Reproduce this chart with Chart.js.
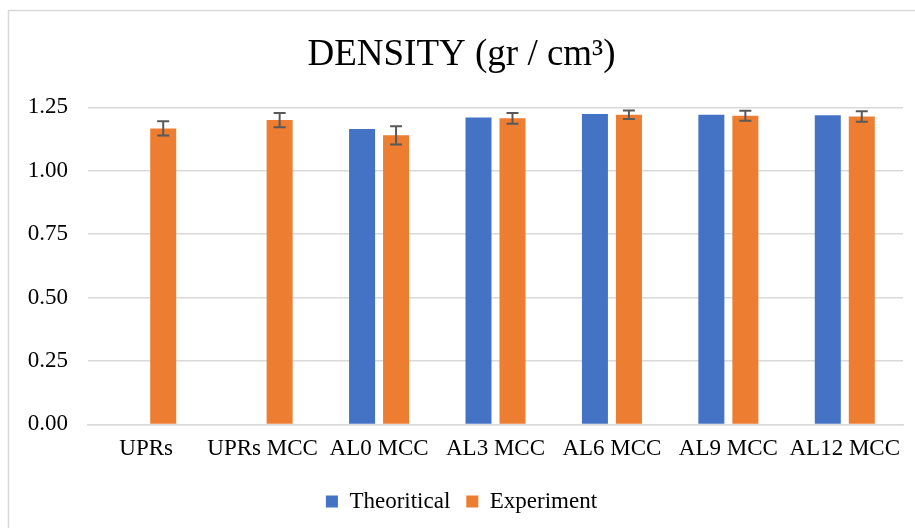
<!DOCTYPE html>
<html>
<head>
<meta charset="utf-8">
<script src="https://cdn.jsdelivr.net/npm/chart.js@4/dist/chart.umd.min.js"></script>
<style>
  html, body { margin: 0; padding: 0; background: #ffffff; }
  #wrap { position: relative; width: 915px; height: 528px; }
</style>
</head>
<body>
<div id="wrap"><canvas id="c" width="915" height="528"></canvas></div>
<script>
const categories = ['UPRs', 'UPRs MCC', 'AL0 MCC', 'AL3 MCC', 'AL6 MCC', 'AL9 MCC', 'AL12 MCC'];
const theoretical = [null, null, 1.165, 1.210, 1.224, 1.221, 1.219];
const experiment = [1.167, 1.200, 1.140, 1.207, 1.221, 1.217, 1.214];
const experimentError = [0.028, 0.028, 0.036, 0.021, 0.017, 0.020, 0.021];
const yTicks = [0, 0.25, 0.5, 0.75, 1.0, 1.25];

const SERIF = '"Liberation Serif", "Times New Roman", serif';

const frame = {
  id: 'frame',
  beforeDraw(chart) {
    const ctx = chart.ctx;
    ctx.save();
    ctx.fillStyle = '#ffffff';
    ctx.fillRect(0, 0, chart.width, chart.height);
    ctx.strokeStyle = '#d9d9d9';
    ctx.lineWidth = 1.5;
    ctx.strokeRect(8.5, 10.5, chart.width + 20, chart.height + 20);
    ctx.restore();
  }
};

const errorBars = {
  id: 'errorBars',
  afterDatasetsDraw(chart) {
    const ctx = chart.ctx;
    const y = chart.scales.y;
    chart.data.datasets.forEach((ds, di) => {
      if (!ds.errors) return;
      const meta = chart.getDatasetMeta(di);
      ctx.save();
      ctx.strokeStyle = '#595959';
      ctx.lineWidth = 2;
      ds.data.forEach((v, i) => {
        const e = ds.errors[i];
        if (v == null || e == null) return;
        const x = meta.data[i].x;
        const yTop = y.getPixelForValue(v + e);
        const yBot = y.getPixelForValue(v - e);
        const cap = 6;
        ctx.beginPath();
        ctx.moveTo(x, yTop); ctx.lineTo(x, yBot);
        ctx.moveTo(x - cap, yTop); ctx.lineTo(x + cap, yTop);
        ctx.moveTo(x - cap, yBot); ctx.lineTo(x + cap, yBot);
        ctx.stroke();
      });
      ctx.restore();
    });
  }
};

new Chart(document.getElementById('c'), {
  type: 'bar',
  data: {
    labels: categories,
    datasets: [
      {
        label: 'Theoritical',
        data: theoretical,
        backgroundColor: '#4472C4',
        borderWidth: 0,
        categoryPercentage: 0.584,
        barPercentage: 0.765
      },
      {
        label: 'Experiment',
        data: experiment,
        errors: experimentError,
        backgroundColor: '#ED7D31',
        borderWidth: 0,
        categoryPercentage: 0.584,
        barPercentage: 0.765
      }
    ]
  },
  options: {
    responsive: false,
    animation: false,
    devicePixelRatio: 1,
    layout: { padding: { left: 20, right: 12, top: 0, bottom: 5 } },
    plugins: {
      title: {
        display: true,
        text: 'DENSITY (gr / cm³)',
        color: '#000000',
        font: { family: SERIF, size: 37, weight: 'normal' },
        padding: { top: 33, bottom: 30 }
      },
      legend: {
        position: 'bottom',
        labels: {
          color: '#000000',
          font: { family: SERIF, size: 23 },
          boxWidth: 12,
          boxHeight: 12,
          padding: 16
        }
      },
      tooltip: { enabled: false }
    },
    scales: {
      x: {
        grid: { display: false, drawTicks: false },
        border: { display: true, color: '#d9d9d9', width: 1.5 },
        ticks: {
          color: '#000000',
          font: { family: SERIF, size: 23 },
          maxRotation: 0,
          autoSkip: false,
          padding: 11
        }
      },
      y: {
        min: 0,
        max: 1.25,
        afterBuildTicks(scale) { scale.ticks = yTicks.map(v => ({ value: v })); },
        afterFit(scale) { scale.width = 68; },
        grid: { color: '#d9d9d9', lineWidth: 1.5, drawTicks: false },
        border: { display: false },
        ticks: {
          color: '#000000',
          font: { family: SERIF, size: 23 },
          padding: 20,
          callback: v => Number(v).toFixed(2)
        }
      }
    }
  },
  plugins: [frame, errorBars]
});
</script>
</body>
</html>
